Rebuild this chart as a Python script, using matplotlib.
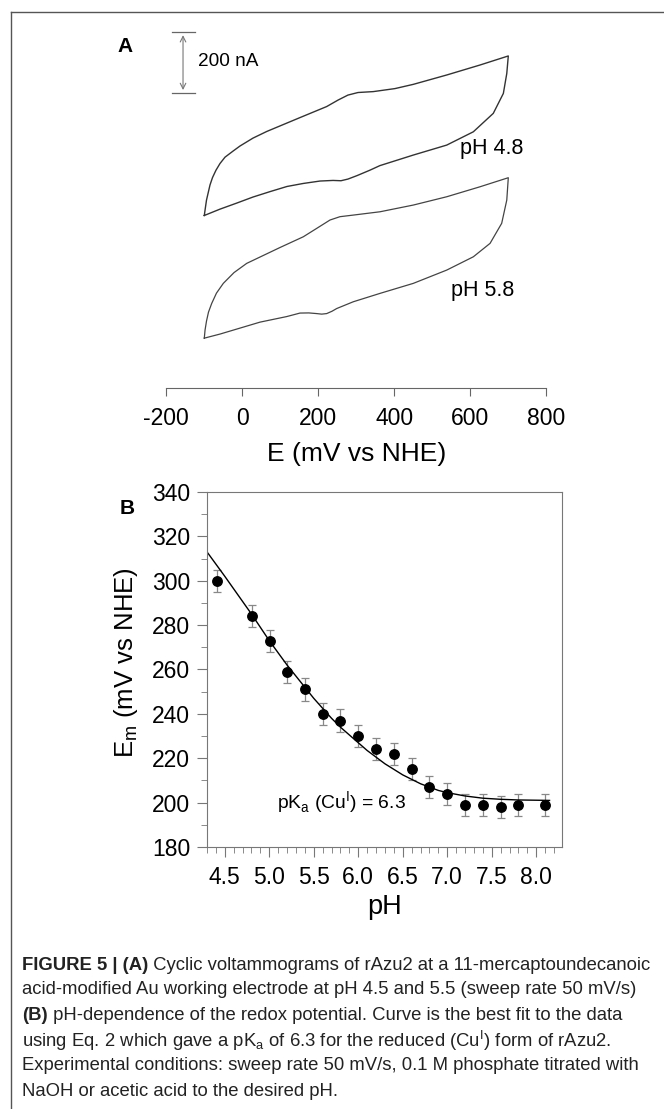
import matplotlib
matplotlib.use("Agg")
import matplotlib.pyplot as plt
from matplotlib.lines import Line2D
from matplotlib.ticker import MultipleLocator, FormatStrFormatter

plt.rcParams['font.family'] = ['Liberation Sans', 'DejaVu Sans']
plt.rcParams['mathtext.fontset'] = 'custom'
plt.rcParams['mathtext.rm'] = 'Liberation Sans'
plt.rcParams['axes.unicode_minus'] = False

# ---- panel A: cyclic voltammograms (E in mV vs NHE, current in nA, offset as drawn)
cv48_E = [-100, -58.7, -14.7, 28, 73, 117.6, 160.5, 204.5, 238.7, 259.7, 278, 302, 336,
          362, 450, 538, 608, 660.5, 687, 696, 700,
          625.5, 538, 450, 401.8, 344.7, 304.5, 278, 252, 222, 151.8, 64.2, 28, -6, -24.5,
          -45.5, -58.7, -69.2, -78.4, -85, -94.2, -98, -100]
cv48_I = [-51, -30, -10, 10, 28, 45, 55, 63, 65, 64, 69.5, 81, 99,
          114, 149, 182, 226, 287, 353, 419, 477,
          447, 414, 383, 369, 359, 356, 347.5, 331, 309.5, 273, 227, 205, 179, 162,
          142, 121, 99, 74.5, 50, 0, -33, -51]

cv58_E = [-100, -58.7, -14.7, 46.6, 116.8, 151.8, 175, 195.8, 209, 222, 236, 248.4, 292, 362.5, 450,
          538, 608, 652, 682.6, 696, 700,
          625.5, 538, 450, 362.5, 292, 257, 230.8, 195.8, 160.5, 99.2, 11.6, -21.8, -50, -68,
          -80.5, -89, -94.2, -98, -100]
cv58_I = [-457, -443.5, -427, -404, -385.6, -374, -373.5, -375.7, -377.5, -375.7, -368, -359, -336.6, -308.8, -275.7,
          -231.7, -187.7, -143.3, -77, 0, 74,
          44, 11, -16.5, -38.7, -49.7, -55, -66, -93.7, -121.5, -157, -209.5, -240, -275.7, -308,
          -342, -371, -400.5, -430, -457]

# ---- panel B: midpoint potential vs pH
ph = [4.41, 4.81, 5.01, 5.2, 5.4, 5.6, 5.8, 6.0, 6.2, 6.4, 6.6, 6.8, 7.0, 7.2, 7.4, 7.6, 7.8, 8.1]
em = [300, 284, 273, 259, 251, 240, 237, 230, 224, 222, 215, 207, 204, 199, 199, 198, 199, 199]
em_err = [5, 5, 5, 5, 5, 5, 5, 5, 5, 5, 5, 5, 5, 5, 5, 5, 5, 5]

fit_ph = [4.3, 4.5, 4.8, 5.0, 5.2, 5.4, 5.5, 5.6, 5.7, 5.8, 5.9, 6.0, 6.1, 6.2, 6.3, 6.4,
          6.5, 6.6, 6.7, 6.8, 6.9, 7.0, 7.2, 7.4, 7.6, 7.8, 8.15]
fit_em = [313, 302, 285, 273, 262, 252, 247, 242.5, 238, 234, 230.5, 227, 223.5, 220.5, 217.5, 215,
          212.5, 210.5, 208.5, 207, 205.5, 204.5, 203, 202, 201.5, 201.2, 201]

W, H = 664, 1109
fig = plt.figure(figsize=(W / 100, H / 100), dpi=100)

def fx(px):
    return px / W

def fy(py):
    return 1 - py / H

# outer frame (top and left rule)
fig.add_artist(Line2D([fx(11), 1], [fy(12), fy(12)], transform=fig.transFigure, color='#555555', lw=1))
fig.add_artist(Line2D([fx(11), fx(11)], [fy(12), 0], transform=fig.transFigure, color='#555555', lw=1))

# ---------------- panel A
axA = fig.add_axes([fx(147.3), fy(388), (565.3 - 147.3) / W, (388 - 20) / H])
axA.plot(cv48_E, cv48_I, color='#333333', lw=1)
axA.plot(cv58_E, cv58_I, color='#444444', lw=0.9)
axA.set_xlim(-250, 850)
axA.set_ylim(-622, 596)
for s in ['left', 'right', 'top']:
    axA.spines[s].set_visible(False)
axA.spines['bottom'].set_bounds(-200, 800)
axA.spines['bottom'].set_color('#666666')
axA.set_yticks([])
axA.set_xticks([-200, 0, 200, 400, 600, 800])
axA.tick_params(axis='x', direction='out', length=6, color='#666666', labelsize=16.5, pad=8)
axA.set_xlabel('E (mV vs NHE)', fontsize=19, labelpad=8)

# 200 nA scale bar
axA.annotate('', xy=(-156, 355), xytext=(-156, 555),
             arrowprops=dict(arrowstyle='<->', color='#777777', lw=0.8))
axA.plot([-185, -124.5], [555, 555], color='#666666', lw=0.9)
axA.plot([-185, -124.5], [355, 355], color='#666666', lw=0.9)
axA.text(-116, 457, '200 nA', fontsize=13.7, va='center', ha='left')
axA.text(573, 172, 'pH 4.8', fontsize=15.5, va='center', ha='left')
axA.text(549, -298, 'pH 5.8', fontsize=15.5, va='center', ha='left')

fig.text(fx(117), fy(47), 'A', fontsize=15, weight='bold', va='center', ha='left')

# ---------------- panel B
axB = fig.add_axes([fx(207), fy(847), 355 / W, 355 / H])
axB.errorbar(ph, em, yerr=em_err, fmt='none', ecolor='#888888', elinewidth=0.9, capsize=3, capthick=0.9)
axB.plot(ph, em, 'o', color='black', markersize=6.8)
axB.plot(fit_ph, fit_em, color='black', lw=1)
axB.set_xlim(4.3, 8.29)
axB.set_ylim(180, 340)
axB.xaxis.set_major_locator(MultipleLocator(0.5))
axB.xaxis.set_minor_locator(MultipleLocator(0.1))
axB.xaxis.set_major_formatter(FormatStrFormatter('%.1f'))
axB.yaxis.set_major_locator(MultipleLocator(20))
axB.yaxis.set_minor_locator(MultipleLocator(10))
axB.tick_params(which='major', direction='out', length=7, color='#777777', labelsize=16.5)
axB.tick_params(which='minor', direction='out', length=4, color='#777777')
axB.tick_params(axis='x', pad=7)
axB.tick_params(axis='y', pad=5)
for s in axB.spines.values():
    s.set_color('#777777')
axB.set_xlabel('pH', fontsize=19.5, labelpad=3)
axB.text(5.09, 200, r'pK$_\mathregular{a}$ (Cu$^\mathregular{I}$) = 6.3', fontsize=13.9, va='center', ha='left')
fig.text(fx(126), fy(663), r'E$_\mathregular{m}$ (mV vs NHE)', fontsize=18.5, rotation=90,
         va='center', ha='center')
fig.text(fx(120), fy(508), 'B', fontsize=15, weight='bold', va='center', ha='left')

# ---------------- caption
cap_font = ['Liberation Sans', 'DejaVu Sans']
cap_size = 13.3
renderer = fig.canvas.get_renderer()

def caption_line(py, parts, px=22):
    for txt, weight in parts:
        t = fig.text(fx(px), fy(py), txt, fontsize=cap_size, weight=weight, family=cap_font,
                     va='center', ha='left', color='#222222')
        px += t.get_window_extent(renderer=renderer).width

caption_line(965, [('FIGURE 5 | (A)', 'bold'),
                   (' Cyclic voltammograms of rAzu2 at a 11-mercaptoundecanoic', 'normal')])
caption_line(990, [('acid-modified Au working electrode at pH 4.5 and 5.5 (sweep rate 50 mV/s)', 'normal')])
caption_line(1016, [('(B)', 'bold'),
                    (' pH-dependence of the redox potential. Curve is the best fit to the data', 'normal')])
caption_line(1041, [(r'using Eq. 2 which gave a pK$_\mathregular{a}$ of 6.3 for the reduced (Cu$^\mathregular{I}$) form of rAzu2.', 'normal')])
caption_line(1066, [('Experimental conditions: sweep rate 50 mV/s, 0.1 M phosphate titrated with', 'normal')])
caption_line(1092, [('NaOH or acetic acid to the desired pH.', 'normal')])

fig.savefig('out.png', dpi=100)
